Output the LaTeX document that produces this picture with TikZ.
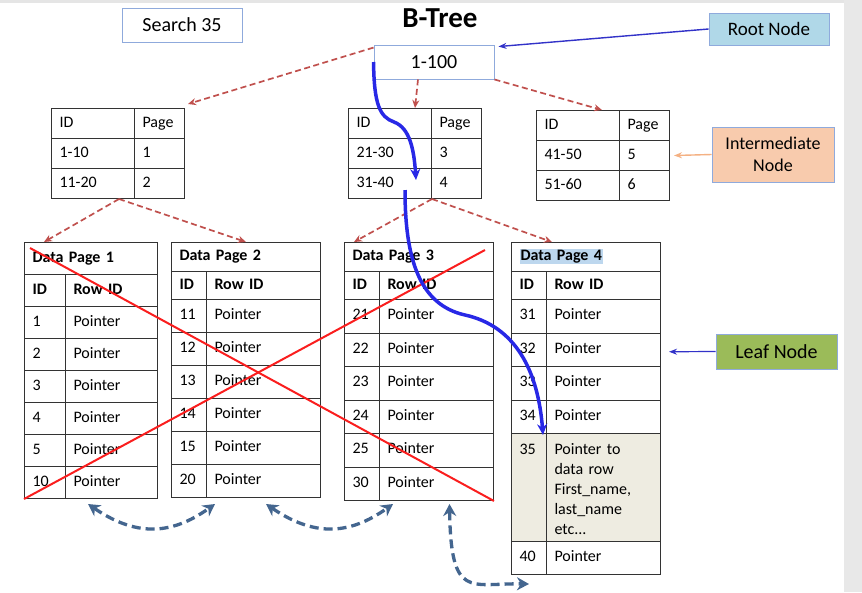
\documentclass[tikz,border=0pt]{standalone}
\usepackage{fontspec}
\setmainfont{Carlito}
\usetikzlibrary{positioning,arrows.meta}
\setlength{\fboxsep}{1pt}

\definecolor{boxblue}{RGB}{143,170,220}
\definecolor{rootfill}{RGB}{176,216,232}
\definecolor{interfill}{RGB}{248,203,173}
\definecolor{leaffill}{RGB}{155,187,89}
\definecolor{treered}{RGB}{192,80,77}
\definecolor{crossred}{RGB}{250,30,30}
\definecolor{pathblue}{RGB}{40,40,230}
\definecolor{linkblue}{RGB}{68,102,143}
\definecolor{labelblue}{RGB}{50,50,200}
\definecolor{peach}{RGB}{244,177,131}
\definecolor{rowbeige}{RGB}{238,236,225}
\definecolor{selblue}{RGB}{189,215,238}

\tikzset{
  cell/.style 2 args={draw=black!80, line width=1pt, anchor=north west,
    inner xsep=8pt, inner ysep=0pt, text width=#1, minimum height=#2,
    text height=11pt, text depth=4pt, align=left,
    font=\fontsize{16}{20}\selectfont},
  headtext/.style={font=\fontsize{16}{20}\selectfont\bfseries},
  namebox/.style={draw=boxblue, line width=0.9pt, inner sep=0pt, align=center},
  treelink/.style={draw=treered, line width=1.7pt, dash pattern=on 6pt off 3.5pt,
    -{Stealth[length=8pt,width=7pt]}},
  searchpath/.style={draw=pathblue, line width=3.5pt, -{Stealth[length=11pt,width=10pt]}},
  leaflink/.style={draw=linkblue, line width=3.3pt, dash pattern=on 9pt off 5pt,
    {Stealth[length=12pt,width=13pt]}-{Stealth[length=12pt,width=13pt]}},
  crossout/.style={draw=crossred, line width=2pt},
  pointer/.style={line width=1.4pt, -{Stealth[length=8pt,width=6pt]}},
}

\begin{document}
\begin{tikzpicture}[x=1pt,y=-1pt]
      \useasboundingbox (0,0) rectangle (862,592);
      \fill[black!10] (0,0) rectangle (862,3);
      \fill[black!9] (844,0) rectangle (862,592);

      % Title, search key and root
      \node[font=\fontsize{29}{32}\selectfont\bfseries] (title) at (440,18) {B-Tree};
      \node[namebox, minimum width=120pt, minimum height=34pt, font=\fontsize{20}{24}\selectfont] (search) at (182,25) {Search 35};
      \node[namebox, minimum width=120pt, minimum height=34pt, font=\fontsize{20}{24}\selectfont] (root) at (434,62) {1-100};

      % Intermediate tables
      \node[cell={67pt}{30pt}] (t1ida) at (51,108) {ID};
      \node[cell={34pt}{30pt}] (t1pg) at (134,108) {Page};
      \node[cell={67pt}{30pt}] (t1r1a) at (51,138) {1-10};
      \node[cell={34pt}{30pt}] (t1r1b) at (134,138) {1};
      \node[cell={67pt}{30pt}] (t1r2a) at (51,168) {11-20};
      \node[cell={34pt}{30pt}] (t1r2b) at (134,168) {2};

      \node[cell={67pt}{30pt}] (t2ida) at (348,108) {ID};
      \node[cell={34pt}{30pt}] (t2pg) at (431,108) {Page};
      \node[cell={67pt}{30pt}] (t2r1a) at (348,138) {21-30};
      \node[cell={34pt}{30pt}] (t2r1b) at (431,138) {3};
      \node[cell={67pt}{30pt}] (t2r2a) at (348,168) {31-40};
      \node[cell={34pt}{30pt}] (t2r2b) at (431,168) {4};

      \node[cell={67pt}{30pt}] (t3ida) at (536,110) {ID};
      \node[cell={34pt}{30pt}] (t3pg) at (619,110) {Page};
      \node[cell={67pt}{30pt}] (t3r1a) at (536,140) {41-50};
      \node[cell={34pt}{30pt}] (t3r1b) at (619,140) {5};
      \node[cell={67pt}{30pt}] (t3r2a) at (536,170) {51-60};
      \node[cell={34pt}{30pt}] (t3r2b) at (619,170) {6};

      % Data pages
      \node[cell={117pt}{32pt}, headtext] (d1head) at (24,242) {Data Page 1};
      \node[cell={25pt}{32pt}, headtext] (d1ida) at (24,274) {ID};
      \node[cell={76pt}{32pt}, headtext] (d1idb) at (65,274) {Row ID};
      \foreach \id [count=\i] in {1,2,3,4,5,10} {
        \node[cell={25pt}{32pt}] (d1id\i) at (24,{306+32*(\i-1)}) {\id};
        \node[cell={76pt}{32pt}] (d1ptr\i) at (65,{306+32*(\i-1)}) {Pointer};
      }

      \node[cell={133pt}{29pt}, headtext] (d2head) at (171,242) {Data Page 2};
      \node[cell={19pt}{28pt}, headtext] (d2ida) at (171,271) {ID};
      \node[cell={98pt}{28pt}, headtext] (d2idb) at (206,271) {Row ID};
      \foreach \id [count=\i] in {11,12,13,14,15,20} {
        \node[cell={19pt}{33pt}] (d2id\i) at (171,{299+33*(\i-1)}) {\id};
        \node[cell={98pt}{33pt}] (d2ptr\i) at (206,{299+33*(\i-1)}) {Pointer};
      }

      \node[cell={133pt}{29pt}, headtext] (d3head) at (344,242) {Data Page 3};
      \node[cell={19pt}{28pt}, headtext] (d3ida) at (344,271) {ID};
      \node[cell={98pt}{28pt}, headtext] (d3idb) at (379,271) {Row ID};
      \foreach \id [count=\i] in {21,22,23,24,25,30} {
        \node[cell={19pt}{33.5pt}] (d3id\i) at (344,{299+33.5*(\i-1)}) {\id};
        \node[cell={98pt}{33.5pt}] (d3ptr\i) at (379,{299+33.5*(\i-1)}) {Pointer};
      }

      \node[cell={133pt}{29pt}, headtext] (d4head) at (511,242) {\colorbox{selblue}{Data Page 4}};
      \node[cell={19pt}{28pt}, headtext] (d4ida) at (511,271) {ID};
      \node[cell={98pt}{28pt}, headtext] (d4idb) at (546,271) {Row ID};
      \foreach \id [count=\i] in {31,32,33,34} {
        \node[cell={19pt}{33.5pt}] (d4id\i) at (511,{299+33.5*(\i-1)}) {\id};
        \node[cell={98pt}{33.5pt}] (d4ptr\i) at (546,{299+33.5*(\i-1)}) {Pointer};
      }
      \node[cell={19pt}{108pt}, fill=rowbeige, text height=21pt, text depth=87pt] (d4id5) at (511,433) {35};
      \node[cell={98pt}{108pt}, fill=rowbeige, text height=21pt, text depth=87pt] (d4ptr5) at (546,433) {Pointer to\\data row\\First\_name,\\last\_name\\etc...};
      \node[cell={19pt}{33pt}] (d4id6) at (511,541) {40};
      \node[cell={98pt}{33pt}] (d4ptr6) at (546,541) {Pointer};

      % Labels on the right
      \node[namebox, fill=rootfill, minimum width=120pt, minimum height=32pt, font=\fontsize{19}{22}\selectfont] (rootlabel) at (769,29) {Root Node};
      \node[namebox, fill=interfill, minimum width=122pt, minimum height=55pt, font=\fontsize{18}{22}\selectfont] (interlabel) at (773,154.5) {Intermediate\\Node};
      \node[namebox, fill=leaffill, minimum width=121pt, minimum height=35pt, font=\fontsize{20}{24}\selectfont] (leaflabel) at (776.5,351.5) {Leaf Node};

      \draw[pointer, labelblue] (rootlabel.west) -- ([shift={(4pt,-2pt)}]root.north east);
      \draw[pointer, peach] (interlabel.west) -- ([xshift=4pt]t3r1b.east);
      \draw[pointer, labelblue, line width=1.2pt] (leaflabel.west) -- ([shift={(8pt,-2pt)}]d4ptr2.east);

      % Tree links
      \draw[treelink] ([yshift=-3pt]root.north west) -- ([shift={(3pt,4pt)}]t1pg.north east);
      \draw[treelink] ([xshift=-16pt]root.south) -- ([xshift=-16pt]t2pg.north west);
      \draw[treelink] (root.south east) -- ([xshift=-18pt]t3ida.north east);
      \draw[treelink] ([xshift=-16pt]t1r2a.south east) -- ([xshift=20pt]d1head.north west);
      \draw[treelink] ([xshift=-16pt]t1r2a.south east) -- (d2head.north);
      \draw[treelink] (t2r2a.south east) -- ([xshift=10pt]d3head.north west);
      \draw[treelink] (t2r2a.south east) -- ([xshift=41pt]d4head.north west);

      % Pages skipped by the search
      \draw[crossout] ([shift={(6pt,-6pt)}]d1head.north west) -- (d3ptr6.south east);
      \draw[crossout] (d1id6.south west) -- ([shift={(-9pt,-8pt)}]d3head.north east);

      % Search path for 35
      \draw[searchpath] (root.west) .. controls (374,105) and (380,117) .. (394,122)
        .. controls (410,128) and (414,150) .. ([shift={(-16pt,-12pt)}]t2r2a.north east);
      \draw[searchpath] ([shift={(-27pt,-22pt)}]t2r2a.north east) .. controls (405,260) and (420,305) .. (465,315)
        .. controls (515,326) and (538,370) .. ([shift={(-3pt,-2pt)}]d4ptr5.north west);

      % Links between leaf pages
      \draw[leaflink] ([shift={(23pt,-5pt)}]d1ptr6.south west) .. controls (135,536) and (170,536) .. ([shift={(9pt,-6pt)}]d2ptr6.south west);
      \draw[leaflink] ([shift={(60pt,-6pt)}]d2ptr6.south west) .. controls (313,536) and (348,536) .. ([shift={(14pt,-3pt)}]d3ptr6.south west);
      \draw[leaflink] ([shift={(13pt,-3pt)}]d3ptr6.south) .. controls (451,600) and (470,583) .. ([yshift=-9pt]d4id6.south);
\end{tikzpicture}
\end{document}
